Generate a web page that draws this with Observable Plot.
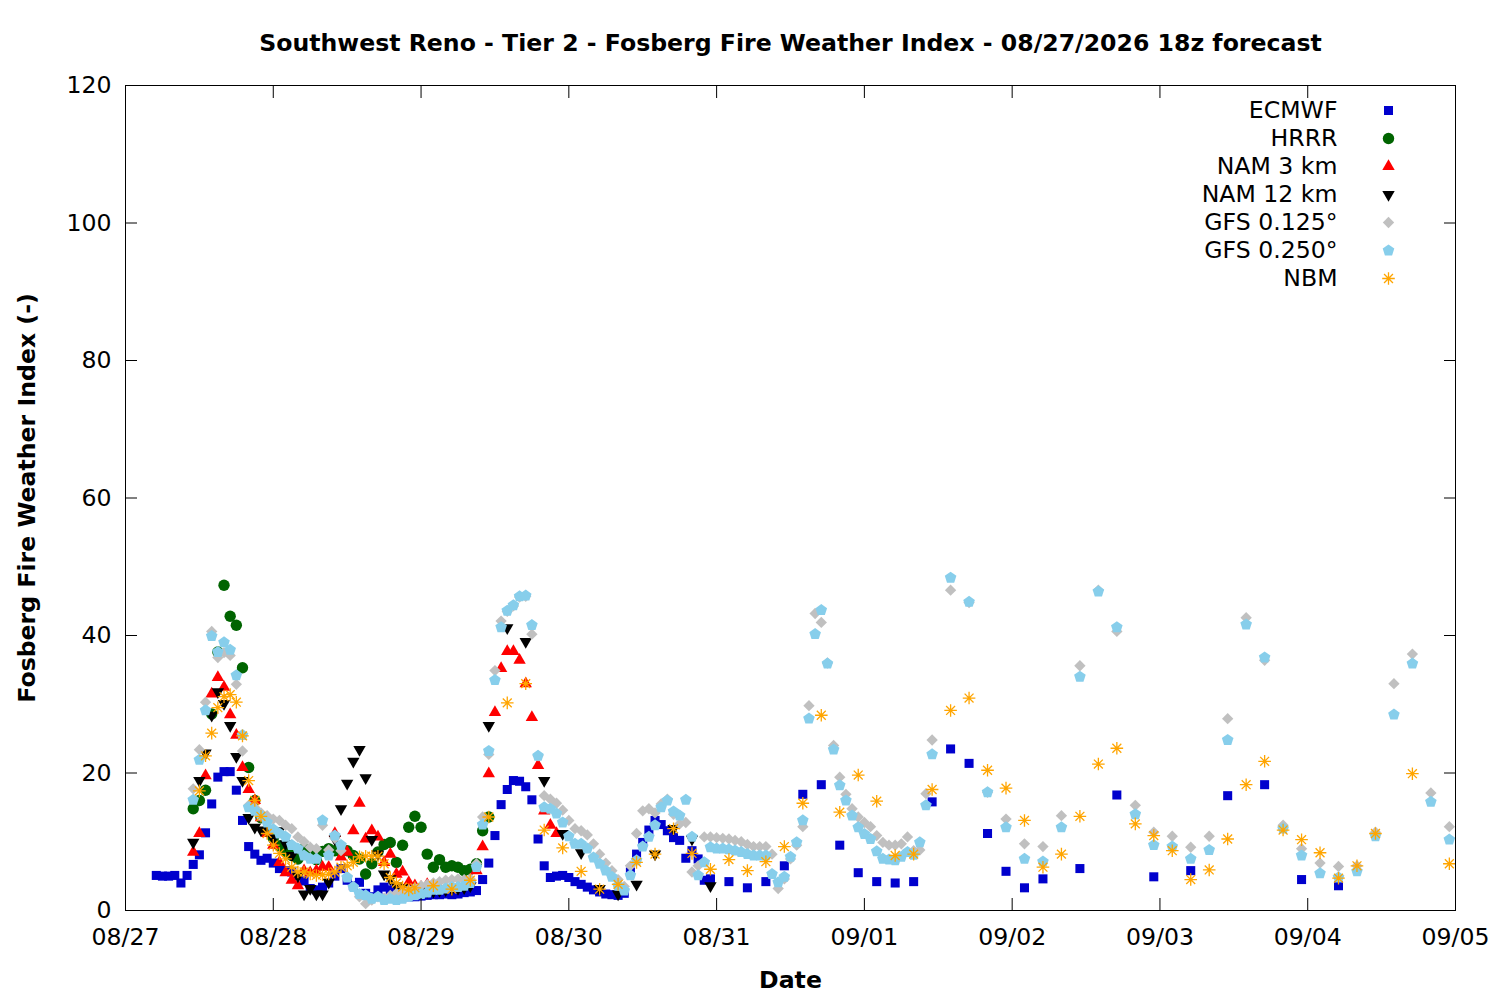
<!DOCTYPE html>
<html><head><meta charset="utf-8">
<script src="https://cdn.jsdelivr.net/npm/d3@7"></script>
<script src="https://cdn.jsdelivr.net/npm/@observablehq/plot@0.6"></script>
<style>body{margin:0;background:#fff;} #chart{width:1500px;height:1000px;}</style>
</head><body><div id="chart"></div>
<script>
// ---- data (hours after 08/27 00z, Fosberg index values) ----
const titleText = "Southwest Reno - Tier 2 - Fosberg Fire Weather Index - 08/27/2026 18z forecast";
const xLabel = "Date";
const yLabel = "Fosberg Fire Weather Index (-)";
const dayTickLabels = ["08/27","08/28","08/29","08/30","08/31","09/01","09/02","09/03","09/04","09/05"];
const yTicks = [0, 20, 40, 60, 80, 100, 120];

const seriesNames = ["ECMWF", "HRRR", "NAM 3 km", "NAM 12 km", "GFS 0.125°", "GFS 0.250°", "NBM"];
const seriesColors = ["#0000cd", "#006400", "#ff0000", "#000000", "#c0c0c0", "#87ceeb", "#ffa500"];

const ecmwfHours = [...d3.range(5, 96), ...d3.range(98, 150, 3), ...d3.range(155, 198, 6)];
const ecmwfValues = [
  5.1, 5.0, 5.0, 5.1, 4.0, 5.1,
  6.7, 8.1, 11.3, 15.5, 19.4, 20.2, 20.2, 17.5, 13.1, 9.3,
  8.2, 7.3, 7.6, 6.9, 6.1, 5.8, 5.6, 5.1, 4.3, 3.2,
  3.0, 3.4, 4.0, 5.0, 6.1, 4.4, 3.6, 4.1, 2.5, 2.0,
  3.0, 3.4, 3.0, 2.6, 2.3, 2.0, 2.0, 2.1, 2.2, 2.3,
  2.3, 2.4, 2.3, 2.4, 2.6, 2.7, 2.9, 4.5, 6.9, 10.9,
  15.4, 17.6, 18.9, 18.8, 18.0, 16.1, 10.4, 6.5, 4.8, 5.0,
  5.1, 4.8, 4.2, 3.8, 3.4, 3.0, 2.7, 2.4, 2.3, 2.2,
  2.5, 5.6, 8.2, 9.9, 11.7, 13.1, 12.5, 11.6, 10.6, 10.2,
  7.6, 8.7, 7.5, 4.4, 4.6,
  4.2, 3.3, 4.2, 6.5, 16.9, 18.3, 9.5, 5.5, 4.2, 4.0, 4.2, 15.8, 23.5, 21.4, 11.2, 5.7, 3.3, 4.6,
  6.1, 16.8, 4.9, 5.8, 16.7, 18.3, 4.5, 3.6
];

const hrrrHours = d3.range(11, 60);
const hrrrValues = [
  14.8, 16.0, 17.5, 28.6, 37.6, 47.3, 42.8, 41.5, 35.3, 20.8,
  16.0, 13.5, 11.6, 10.5, 9.4, 8.6, 8.0, 7.5, 9.0, 8.2,
  7.4, 8.6, 9.0, 8.7, 8.5, 8.7, 8.0, 7.5, 5.3, 6.8,
  8.5, 9.6, 9.9, 7.0, 9.5, 12.1, 13.7, 12.1, 8.2, 6.3,
  7.4, 6.3, 6.5, 6.3, 5.8, 6.0, 6.8, 11.6, 13.6
];

const nam3Hours = d3.range(11, 71);
const nam3Values = [
  8.5, 11.2, 19.6, 31.5, 33.9, 32.5, 28.5, 25.5, 20.8, 17.6,
  16.0, 13.5, 11.2, 9.5, 7.0, 5.5, 4.4, 3.6, 5.8, 5.5,
  5.8, 6.3, 6.3, 11.2, 7.8, 8.5, 11.6, 15.6, 10.4, 11.6,
  10.7, 7.0, 8.2, 5.3, 5.6, 4.1, 3.6, 3.4, 3.8, 3.5,
  3.3, 3.2, 3.3, 3.5, 3.8, 4.5, 5.8, 9.3, 19.9, 28.8,
  35.2, 37.7, 37.7, 36.4, 33.0, 28.1, 21.1, 14.5, 12.4, 11.2
];

const nam12Hours = [...d3.range(11, 57), ...d3.range(59, 96, 3)];
const nam12Values = [
  9.9, 18.9, 22.9, 28.4, 31.8, 30.1, 26.9, 22.4, 18.9, 13.5,
  12.1, 11.7, 11.6, 10.5, 11.6, 9.7, 8.0, 5.0, 2.4, 3.2,
  2.4, 2.4, 4.1, 10.4, 14.8, 18.5, 21.7, 23.4, 19.3, 10.3,
  8.2, 5.3, 4.6, 3.6, 3.3, 3.1, 3.0, 2.9, 2.8, 2.8,
  2.9, 3.0, 3.1, 3.2, 3.3, 3.6,
  26.9, 41.1, 39.1, 18.9, 11.2, 8.4, 3.2, 2.4, 3.8, 8.2, 11.9, 10.4, 3.6
];

const gfs0125Hours = [...d3.range(11, 132), ...d3.range(134, 216, 3)];
const gfs0125Values = [
  17.7, 23.4, 30.3, 40.6, 36.8, 37.5, 37.1, 32.9, 23.2, 15.3,
  15.0, 14.2, 13.8, 13.3, 13.1, 12.4, 11.9, 10.7, 10.0, 9.2,
  9.0, 12.4, 8.8, 10.5, 8.7, 5.0, 3.5, 2.0, 1.0, 1.5,
  2.0, 1.8, 2.2, 2.5, 2.8, 3.0, 3.3, 3.6, 3.8, 4.0,
  4.2, 4.4, 4.5, 4.6, 4.5, 4.6, 6.8, 13.6, 22.7, 34.9,
  42.1, 43.5, 44.3, 45.6, 45.7, 40.2, 22.5, 16.7, 16.2, 15.6,
  14.6, 13.1, 11.9, 11.6, 11.0, 9.7, 8.2, 6.9, 5.8, 4.5,
  3.5, 6.5, 11.2, 14.5, 14.8, 14.2, 15.5, 16.2, 14.0, 12.6,
  12.8, 5.6, 6.5, 10.7, 10.7, 10.6, 10.5, 10.4, 10.2, 10.0,
  9.6, 9.3, 9.3, 9.3, 8.2, 3.2, 4.6, 7.5, 9.5, 12.2,
  29.8, 43.2, 41.9, 36.0, 24.0, 19.4, 16.9, 14.8, 13.6, 12.8,
  12.2, 10.9, 9.9, 9.5, 9.5, 9.7, 10.7, 8.7, 8.8, 17.0, 24.8,
  46.6, 44.8, 17.2, 13.3, 9.7, 9.3, 13.8, 35.6, 46.6, 40.6,
  15.3, 11.4, 10.8, 9.2, 10.8, 27.9, 42.6, 36.4, 12.4, 9.0,
  6.9, 6.4, 6.5, 11.4, 33.0, 37.3, 17.1, 12.2
];

const gfs0250Hours = [...d3.range(11, 132), ...d3.range(134, 216, 3)];
const gfs0250Values = [
  16.1, 21.9, 29.1, 39.9, 37.6, 39.0, 37.9, 34.2, 25.5, 15.0,
  14.5, 13.8, 12.8, 11.8, 11.2, 10.7, 9.5, 9.0, 8.0, 7.5,
  7.5, 13.1, 8.0, 10.9, 9.5, 4.8, 3.4, 2.4, 2.2, 1.7,
  2.0, 1.5, 1.7, 1.5, 1.7, 2.0, 2.2, 2.4, 2.6, 3.0,
  3.0, 3.2, 3.4, 3.4, 3.6, 4.0, 6.3, 12.5, 23.2, 33.5,
  41.2, 43.6, 44.4, 45.7, 45.8, 41.5, 22.5, 15.0, 14.8, 14.1,
  12.8, 10.8, 9.7, 9.7, 9.0, 7.7, 6.8, 5.8, 4.9, 3.6,
  2.9, 5.1, 7.3, 9.3, 10.7, 12.4, 15.0, 16.0, 14.4, 13.8,
  16.1, 10.7, 5.1, 7.0, 9.2, 9.0, 9.0, 8.9, 8.7, 8.5,
  8.2, 8.0, 8.0, 8.0, 5.3, 4.1, 4.9, 7.8, 9.9, 13.1,
  27.9, 40.2, 43.7, 35.9, 23.4, 18.2, 16.0, 13.8, 12.1, 11.1,
  10.4, 8.6, 7.5, 7.4, 7.3, 7.8, 8.5, 8.1, 9.9, 15.3, 22.7,
  48.4, 44.9, 17.2, 12.1, 7.5, 7.1, 12.1, 34.0, 46.4, 41.2,
  14.0, 9.5, 9.3, 7.5, 8.8, 24.8, 41.6, 36.8, 11.9, 8.0,
  5.4, 4.8, 5.7, 10.8, 28.5, 35.9, 15.8, 10.3
];

const nbmHours = [...d3.range(12, 48), ...d3.range(50, 204, 3), 209, 215];
const nbmValues = [
  17.4, 22.5, 25.8, 29.5, 31.1, 31.4, 30.3, 25.4, 18.9, 16.0,
  13.7, 11.2, 9.5, 8.3, 7.5, 6.3, 5.6, 5.6, 5.3, 5.1,
  5.2, 5.3, 5.6, 6.3, 6.5, 7.0, 7.8, 7.9, 7.9, 7.9,
  6.8, 4.8, 4.0, 3.4, 3.0, 3.3,
  3.6, 3.1, 4.4, 13.6, 30.2, 33.0, 11.7, 9.1, 5.7, 3.1,
  3.8, 7.0, 8.2, 11.9, 8.3, 6.0, 7.4, 5.8, 7.1, 9.3,
  15.6, 28.4, 14.3, 19.7, 15.9, 8.0, 8.2, 17.6, 29.1, 30.9,
  20.4, 17.8, 13.1, 6.3, 8.2, 13.7, 21.3, 23.6, 12.6, 10.9,
  8.7, 4.5, 5.9, 10.4, 18.3, 21.7, 11.7, 10.3, 8.4, 4.7,
  6.5, 11.2, 19.9, 6.8
];

// ---- helpers ----
const START = Date.UTC(2026, 7, 27, 0);
const toDate = h => new Date(START + h * 3600e3);
const dayDates = dayTickLabels.map((_, i) => toDate(24 * i));
const labelOf = new Map(dayDates.map((d, i) => [+d, dayTickLabels[i]]));

const pentagon = {draw(ctx, size) {
  const r = Math.sqrt(size / Math.PI);
  for (let i = 0; i < 5; i++) {
    const a = -Math.PI / 2 + i * 2 * Math.PI / 5;
    const x = r * Math.cos(a), y = r * Math.sin(a);
    if (i) ctx.lineTo(x, y); else ctx.moveTo(x, y);
  }
  ctx.closePath();
}};
const star8 = {draw(ctx, size) {
  const r = Math.sqrt(size / Math.PI);
  for (let i = 0; i < 4; i++) {
    const a = i * Math.PI / 4;
    ctx.moveTo(r * Math.cos(a), r * Math.sin(a));
    ctx.lineTo(-r * Math.cos(a), -r * Math.sin(a));
  }
}};
const triDown = {draw(ctx, size) {
  const y = Math.sqrt(size / (Math.sqrt(3) * 3));
  ctx.moveTo(0, 2 * y);
  ctx.lineTo(-Math.sqrt(3) * y, -y);
  ctx.lineTo(Math.sqrt(3) * y, -y);
  ctx.closePath();
}};

const seriesSpecs = [
  {hours: ecmwfHours, values: ecmwfValues, symbol: "square", r: 5.1},
  {hours: hrrrHours, values: hrrrValues, symbol: "circle", r: 5.7},
  {hours: nam3Hours, values: nam3Values, symbol: "triangle", r: 4.6},
  {hours: nam12Hours, values: nam12Values, symbol: triDown, r: 4.6},
  {hours: gfs0125Hours, values: gfs0125Values, symbol: "diamond2", r: 5.1},
  {hours: gfs0250Hours, values: gfs0250Values, symbol: pentagon, r: 6.1},
  {hours: nbmHours, values: nbmValues, symbol: star8, r: 6.3, line: true}
];

const marks = [];
seriesSpecs.forEach((s, i) => {
  const data = s.hours.map((h, k) => ({date: toDate(h), value: s.values[k]}));
  const color = seriesColors[i];
  const style = s.line ? {fill: "none", stroke: color, strokeWidth: 1.3} : {fill: color, stroke: "none"};
  marks.push(Plot.dot(data, {x: "date", y: "value", symbol: s.symbol, r: s.r, ...style}));
  // legend entry
  marks.push(Plot.text([seriesNames[i]], {frameAnchor: "top-right", dx: -118, dy: 25 + 28 * i,
    textAnchor: "end", lineAnchor: "middle", fill: "black"}));
  marks.push(Plot.dot([0], {frameAnchor: "top-right", dx: -67, dy: 25 + 28 * i,
    symbol: s.symbol, r: s.r, ...style}));
});

const chart = Plot.plot({
  width: 1500,
  height: 1000,
  marginLeft: 125,
  marginRight: 45,
  marginTop: 85,
  marginBottom: 90,
  style: {fontFamily: "DejaVu Sans", fontSize: "23.6px", background: "white", color: "black"},
  x: {type: "utc", domain: [toDate(0), toDate(216)], label: null},
  y: {domain: [0, 120], label: null},
  marks: [
    ...marks,
    Plot.frame({stroke: "black", strokeWidth: 1}),
    Plot.axisX(dayDates, {anchor: "bottom", tickSize: -12, tickFormat: () => "", label: null}),
    Plot.axisX(dayDates, {anchor: "top", tickSize: -12, tickFormat: () => "", label: null}),
    Plot.axisX(dayDates, {anchor: "bottom", tickSize: 0, tickPadding: 18, tickFormat: d => labelOf.get(+d), label: null}),
    Plot.axisY(yTicks, {anchor: "left", tickSize: -12, tickFormat: () => "", label: null}),
    Plot.axisY(yTicks, {anchor: "right", tickSize: -12, tickFormat: () => "", label: null}),
    Plot.axisY(yTicks, {anchor: "left", tickSize: 0, tickPadding: 14, label: null}),
    Plot.text([titleText], {frameAnchor: "top", dy: -42, fontWeight: "bold", lineAnchor: "middle"}),
    Plot.text([xLabel], {frameAnchor: "bottom", dy: 70, fontWeight: "bold", lineAnchor: "middle"}),
    Plot.text([yLabel], {frameAnchor: "left", dx: -98, rotate: -90, fontWeight: "bold", lineAnchor: "middle", textAnchor: "middle"})
  ]
});
document.getElementById("chart").appendChild(chart);
</script></body></html>
